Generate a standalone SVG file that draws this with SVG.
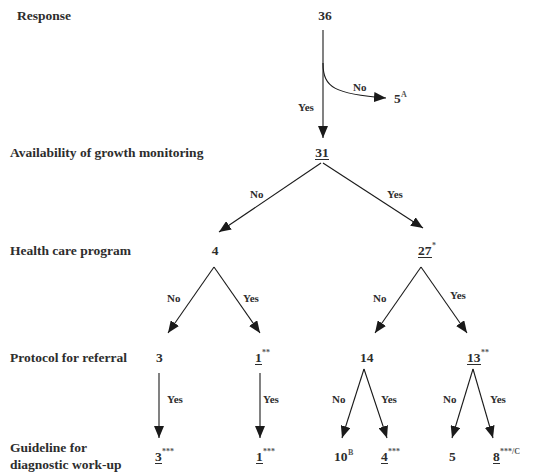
<svg xmlns="http://www.w3.org/2000/svg" width="547" height="472" viewBox="0 0 547 472" font-family="'Liberation Serif', 'Times New Roman', serif">
<defs>
<marker id="ah" viewBox="0 0 12 10" refX="12" refY="5" markerWidth="12" markerHeight="10" markerUnits="userSpaceOnUse" orient="auto">
<path d="M0,0 L12,5 L0,10 z" fill="#1a1a1a"/>
</marker>
<style>
text{font-family:"Liberation Serif","Times New Roman",serif;font-weight:bold;fill:#2d2d2d;font-size:13.5px}
.n{text-anchor:middle}
.lab{font-size:11px}
.sup{font-size:8px;fill:#555}
.c{stroke:#1a1a1a;stroke-width:1.1;fill:none;marker-end:url(#ah)}
.u{stroke:#2d2d2d;stroke-width:1}
</style>
</defs>
<g id="row-labels">
<text x="17" y="20">Response</text>
<text x="10" y="157">Availability of growth monitoring</text>
<text x="10" y="255">Health care program</text>
<text x="10" y="362">Protocol for referral</text>
<text x="10" y="452">Guideline for</text>
<text x="10" y="469">diagnostic work-up</text>
</g>
<g id="connectors">
<line class="c" x1="323" y1="30" x2="323" y2="138"/>
<path class="c" d="M323,63 C323,88 335,94 386,98"/>
<line class="c" x1="321" y1="163" x2="219" y2="232"/>
<line class="c" x1="323" y1="163" x2="423" y2="228"/>
<line class="c" x1="214" y1="267" x2="168" y2="333"/>
<line class="c" x1="214" y1="267" x2="260" y2="333"/>
<line class="c" x1="421" y1="267" x2="375" y2="333"/>
<line class="c" x1="421" y1="267" x2="467" y2="333"/>
<line class="c" x1="159" y1="373" x2="159" y2="438"/>
<line class="c" x1="260" y1="373" x2="260" y2="438"/>
<line class="c" x1="364" y1="369" x2="342" y2="438"/>
<line class="c" x1="364" y1="369" x2="387" y2="438"/>
<line class="c" x1="473" y1="369" x2="452" y2="438"/>
<line class="c" x1="473" y1="369" x2="493" y2="438"/>
<text class="lab" x="353" y="91">No</text>
<text class="lab" x="298" y="111">Yes</text>
<text class="lab" x="250" y="198">No</text>
<text class="lab" x="387" y="198">Yes</text>
<text class="lab" x="167" y="302">No</text>
<text class="lab" x="243" y="302">Yes</text>
<text class="lab" x="373" y="302">No</text>
<text class="lab" x="450" y="299">Yes</text>
<text class="lab" x="167" y="403">Yes</text>
<text class="lab" x="263" y="403">Yes</text>
<text class="lab" x="332" y="403">No</text>
<text class="lab" x="381" y="403">Yes</text>
<text class="lab" x="443" y="403">No</text>
<text class="lab" x="490" y="403">Yes</text>
</g>
<g id="n36"><text class="n" x="325" y="20">36</text></g>
<g id="n5a"><text x="394" y="103">5</text><text class="sup" x="401" y="97">A</text></g>
<g id="n31"><text class="n" x="322" y="157">31</text><line class="u" x1="315" y1="159.5" x2="329" y2="159.5"/></g>
<g id="n4"><text class="n" x="215" y="255">4</text></g>
<g id="n27"><text x="418" y="255">27</text><line class="u" x1="418" y1="257.5" x2="432" y2="257.5"/><text class="sup" x="432" y="248">*</text></g>
<g id="n3"><text x="156" y="362">3</text></g>
<g id="n1"><text x="255" y="362">1</text><line class="u" x1="255" y1="364.5" x2="262" y2="364.5"/><text class="sup" x="262" y="355">**</text></g>
<g id="n14"><text x="360" y="362">14</text></g>
<g id="n13"><text x="467" y="362">13</text><line class="u" x1="467" y1="364.5" x2="481" y2="364.5"/><text class="sup" x="481" y="355">**</text></g>
<g id="g3"><text x="155" y="461">3</text><line class="u" x1="155" y1="463.5" x2="162" y2="463.5"/><text class="sup" x="162" y="454">***</text></g>
<g id="g1"><text x="256" y="461">1</text><line class="u" x1="256" y1="463.5" x2="263" y2="463.5"/><text class="sup" x="263" y="454">***</text></g>
<g id="g10"><text x="334" y="461">10</text><text class="sup" x="348" y="455">B</text></g>
<g id="g4"><text x="381" y="461">4</text><line class="u" x1="381" y1="463.5" x2="388" y2="463.5"/><text class="sup" x="388" y="454">***</text></g>
<g id="g5"><text x="449" y="461">5</text></g>
<g id="g8"><text x="493" y="461">8</text><line class="u" x1="493" y1="463.5" x2="500" y2="463.5"/><text class="sup" x="500" y="454">***/C</text></g>
</svg>
